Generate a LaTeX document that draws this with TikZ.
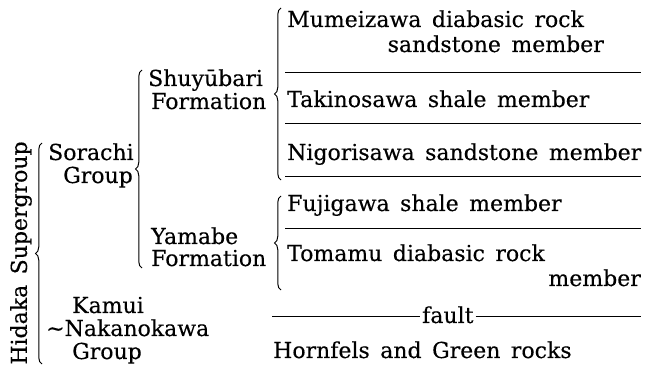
\documentclass[tikz,border=0pt]{standalone}
\usepackage{fontspec}
\setmainfont{DejaVu Serif}[WordSpace=1.5,FakeBold=0.3]
\usetikzlibrary{decorations.pathreplacing}
\begin{document}
\begin{tikzpicture}[x=1pt,y=-1pt,
  lbl/.style={inner sep=0pt, font=\fontsize{22}{24}\selectfont},
  bw/.style={lbl, anchor=base west},
  be/.style={lbl, anchor=base east},
  rulex/.style={line width=0.8pt},
  brc/.style={decorate, decoration={brace, amplitude=6.5pt}, line width=1pt}]
\useasboundingbox (0,0) rectangle (646,366);
% left column
\node[lbl, rotate=90] (hidaka) at (21,253) {Hidaka Supergroup};
\node[bw] (sorachi) at (48,160) {Sorachi};
\node[be] (sgroup) at (133,183) {Group};
\node[bw] (kamui) at (72,313) {Kamui};
\node[bw] (naka) at (46,336) {∼Nakanokawa};
\node[bw] (kgroup) at (72,359) {Group};
% formations
\node[bw] (shuy) at (148,86) {Shuyūbari};
\node[bw] (shuyf) at (151,109) {Formation};
\node[bw] (yam) at (151,244) {Yamabe};
\node[bw] (yamf) at (151,266) {Formation};
% members
\node[bw] (mum) at (287,27) {Mumeizawa diabasic rock};
\node[be] (mum2) at (604,52) {sandstone member};
\node[bw] (tak) at (287,107) {Takinosawa shale member};
\node[bw] (nig) at (287,160) {Nigorisawa sandstone member};
\node[bw] (fuj) at (287,211) {Fujigawa shale member};
\node[bw] (tom) at (287,261) {Tomamu diabasic rock};
\node[be] (tom2) at (641,286) {member};
\node[bw] (fault) at (422,323) {fault};
\node[bw] (horn) at (273,358) {Hornfels and Green rocks};
% rules
\coordinate (r1a) at (285,72);  \coordinate (r1b) at (641,72);
\coordinate (r2a) at (285,123); \coordinate (r2b) at (641,123);
\coordinate (r3a) at (285,176); \coordinate (r3b) at (641,176);
\coordinate (r4a) at (285,228); \coordinate (r4b) at (641,228);
\coordinate (fa) at (272,316);  \coordinate (fb) at (641,316);
\draw[rulex] (r1a) -- (r1b);
\draw[rulex] (r2a) -- (r2b);
\draw[rulex] (r3a) -- (r3b);
\draw[rulex] (r4a) -- (r4b);
\draw[rulex] (fa) -- ([xshift=-2pt]fault.west |- fa);
\draw[rulex] ([xshift=2pt]fault.east |- fb) -- (fb);
% braces
\coordinate (b1t) at (42,143);  \coordinate (b1b) at (42,364);
\coordinate (b2t) at (142,70);  \coordinate (b2b) at (142,268);
\coordinate (b3t) at (281,8);   \coordinate (b3b) at (281,180);
\coordinate (b4t) at (281,196); \coordinate (b4b) at (281,290);
\draw[brc] (b1b) -- (b1t);
\draw[brc] (b2b) -- (b2t);
\draw[brc] (b3b) -- (b3t);
\draw[brc] (b4b) -- (b4t);
\end{tikzpicture}
\end{document}
